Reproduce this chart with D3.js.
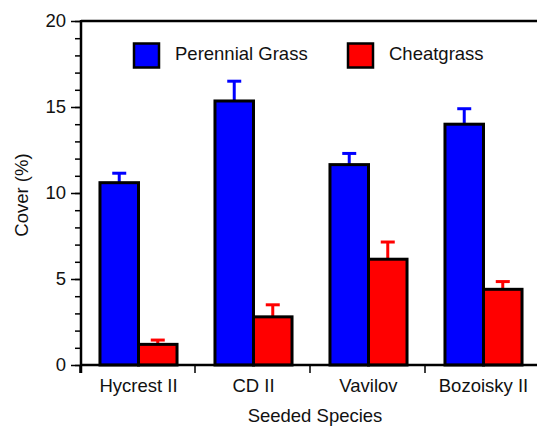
<!DOCTYPE html>
<html><head><meta charset="utf-8">
<script src="https://cdn.jsdelivr.net/npm/d3@7"></script>
<style>
html,body{margin:0;padding:0;background:#fff;}
text{font-family:"Liberation Sans",Arial,Helvetica,sans-serif;fill:#111;}
</style></head>
<body>
<svg id="chart" width="537" height="427"></svg>
<script>
const categories = ["Hycrest II", "CD II", "Vavilov", "Bozoisky II"];
const seriesNames = ["Perennial Grass", "Cheatgrass"];
const seriesColors = ["#0000ff", "#ff0000"];
const perennialValues = [10.6, 15.35, 11.65, 14.0];
const perennialErrors = [0.55, 1.15, 0.65, 0.9];
const cheatgrassValues = [1.2, 2.8, 6.15, 4.4];
const cheatgrassErrors = [0.25, 0.7, 1.0, 0.45];
const yTicks = [0, 5, 10, 15, 20];

const series = [
  {name: seriesNames[0], color: seriesColors[0], values: perennialValues, errors: perennialErrors},
  {name: seriesNames[1], color: seriesColors[1], values: cheatgrassValues, errors: cheatgrassErrors}
];

const svg = d3.select("#chart");
const pLeft = 81, pRight = 541, pTop = 21, pBottom = 365;

const x = d3.scaleBand().domain(categories).range([pLeft, pRight]).paddingInner(0.33).paddingOuter(0.165);
const xs = d3.scaleBand().domain(seriesNames).range([0, x.bandwidth()]);
const y = d3.scaleLinear().domain([0, 20]).range([pBottom, pTop]);

// top frame line
svg.append("line").attr("x1", pLeft).attr("x2", 537).attr("y1", pTop).attr("y2", pTop)
  .attr("stroke", "#000").attr("stroke-width", 2.5);

// error bars
const g = svg.append("g");
series.forEach(s => {
  categories.forEach((c, i) => {
    const cx = x(c) + xs(s.name) + xs.bandwidth() / 2;
    const v = s.values[i], e = s.errors[i];
    g.append("line").attr("x1", cx).attr("x2", cx).attr("y1", y(v)).attr("y2", y(v + e))
      .attr("stroke", s.color).attr("stroke-width", 3);
    g.append("line").attr("x1", cx - 7).attr("x2", cx + 7).attr("y1", y(v + e)).attr("y2", y(v + e))
      .attr("stroke", s.color).attr("stroke-width", 3);
  });
});

// bars
series.forEach(s => {
  g.selectAll(null).data(categories).enter().append("rect")
    .attr("x", c => x(c) + xs(s.name))
    .attr("y", (c, i) => y(s.values[i]))
    .attr("width", xs.bandwidth())
    .attr("height", (c, i) => y(0) - y(s.values[i]))
    .attr("fill", s.color).attr("stroke", "#000").attr("stroke-width", 3);
});

// y axis minor ticks
const yMinor = d3.axisLeft(y).tickValues(d3.range(0, 21, 1)).tickSize(6).tickFormat("");
svg.append("g").attr("transform", `translate(${pLeft},0)`).call(yMinor)
  .call(a => a.select(".domain").remove())
  .selectAll("line").attr("stroke", "#000").attr("stroke-width", 1.5);

// y axis major
const yAxis = d3.axisLeft(y).tickValues(yTicks).tickSize(10).tickPadding(5);
const ya = svg.append("g").attr("transform", `translate(${pLeft},0)`).call(yAxis);
ya.select(".domain").remove();
ya.selectAll("line").attr("stroke", "#000").attr("stroke-width", 1.5);
ya.selectAll("text").attr("font-size", 18.5).style("fill", "#111");
svg.append("line").attr("x1", pLeft).attr("x2", pLeft).attr("y1", pTop - 1).attr("y2", pBottom + 8)
  .attr("stroke", "#000").attr("stroke-width", 2.5);

// x axis
const xPos = d3.scaleLinear().domain([0, categories.length]).range([pLeft, pRight]);
svg.append("line").attr("x1", pLeft).attr("x2", 537).attr("y1", pBottom).attr("y2", pBottom)
  .attr("stroke", "#000").attr("stroke-width", 2.5);
svg.append("g").selectAll("line").data(d3.range(0, categories.length + 1)).enter().append("line")
  .attr("x1", d => xPos(d) - 1).attr("x2", d => xPos(d) - 1)
  .attr("y1", pBottom).attr("y2", pBottom + 8)
  .attr("stroke", "#000").attr("stroke-width", 1.5);
svg.append("g").selectAll("text").data(categories).enter().append("text")
  .attr("x", c => x(c) + x.bandwidth() / 2).attr("y", 392)
  .attr("text-anchor", "middle").attr("font-size", 18.5).text(c => c);

// axis titles
svg.append("text").attr("x", 315).attr("y", 422).attr("text-anchor", "middle")
  .attr("font-size", 18.5).text("Seeded Species");
svg.append("text").attr("transform", `translate(28,${(pTop + pBottom) / 2 + 2}) rotate(-90)`)
  .attr("text-anchor", "middle").attr("font-size", 18.5).text("Cover (%)");

// legend
const legendX = [133, 347];
series.forEach((s, i) => {
  svg.append("rect").attr("x", legendX[i] + 1).attr("y", 43.5).attr("width", 25).attr("height", 24)
    .attr("fill", s.color).attr("stroke", "#000").attr("stroke-width", 2.5);
  svg.append("text").attr("x", legendX[i] + 42).attr("y", 60).attr("font-size", 18.5).text(s.name);
});
</script>
</body></html>
